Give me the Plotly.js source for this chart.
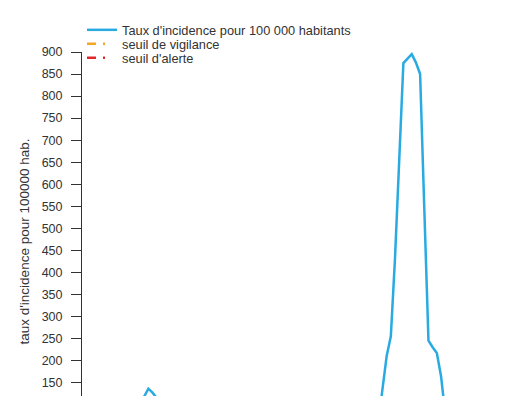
<!DOCTYPE html>
<html>
<head>
<meta charset="utf-8">
<script src="https://cdn.plot.ly/plotly-3.0.1.min.js"></script>
<style>
html, body { margin:0; padding:0; overflow:hidden; background:#fff; width:530px; height:396px; }
#chart { width:530px; height:460px; }
</style>
</head>
<body>
<div id="chart"></div>
<script>
// Weekly incidence (per 100 000 inhabitants)
const weeks = [];
for (let w = 1; w <= 100; w++) weeks.push(w);

const incidence = [
  62, 58, 55, 60, 66, 72, 80, 88, 95, 100,
  104, 108, 100, 117, 136, 127, 115, 108, 100, 92,
  85, 78, 72, 66, 60, 55, 52, 50, 48, 47,
  46, 46, 47, 48, 50, 52, 55, 58, 60, 62,
  64, 66, 68, 70, 72, 74, 75, 76, 78, 80,
  82, 84, 85, 86, 87, 88, 90, 92, 94, 95,
  96, 97, 98, 95, 90, 80, 70, 62, 55, 60,
  135, 210, 255, 433, 654, 875, 885, 895, 876, 850,
  545, 245, 230, 217, 165, 80, 65, 55, 50, 48,
  47, 46, 46, 47, 48, 49, 50, 50, 51, 52
];

const thresholdWeeks = [1, 100];
const vigilance = [70, 70];
const alerte = [100, 100];

const yTickVals = [150, 200, 250, 300, 350, 400, 450, 500, 550, 600, 650, 700, 750, 800, 850, 900];

const seriesNames = [
  "Taux d'incidence pour 100 000 habitants",
  "seuil de vigilance",
  "seuil d'alerte"
];
const yTitle = "taux d'incidence pour 100000 hab.";

const traces = [
  { x: weeks, y: incidence, type: 'scatter', mode: 'lines', name: seriesNames[0],
    legend: 'legend', line: { color: '#29abe2', width: 2.5 } },
  { x: thresholdWeeks, y: vigilance, type: 'scatter', mode: 'lines', name: seriesNames[1],
    legend: 'legend2', line: { color: '#f5a623', width: 2.5, dash: '9px,7px,2px,40px' } },
  { x: thresholdWeeks, y: alerte, type: 'scatter', mode: 'lines', name: seriesNames[2],
    legend: 'legend3', line: { color: '#e3262b', width: 2.5, dash: '9px,7px,2px,40px' } }
];

const legendBase = {
  x: 0.0, xanchor: 'left', yanchor: 'top',
  bgcolor: 'rgba(0,0,0,0)', font: { size: 12.8, color: '#333' }
};

const layout = {
  width: 530, height: 460,
  margin: { l: 82, r: 20, t: 52, b: 29 },
  paper_bgcolor: '#fff', plot_bgcolor: '#fff',
  font: { family: 'Liberation Sans, Arial, sans-serif', color: '#333', size: 12 },
  showlegend: true,
  legend: Object.assign({}, legendBase, { y: 1.0976 }),
  legend2: Object.assign({}, legendBase, { y: 1.0607 }),
  legend3: Object.assign({}, legendBase, { y: 1.0237 }),
  xaxis: {
    range: [-0.87, 101.5], visible: false, showgrid: false, zeroline: false
  },
  yaxis: {
    range: [40, 900], tickmode: 'array', tickvals: yTickVals,
    showgrid: false, zeroline: false,
    showline: true, linecolor: '#333', linewidth: 1,
    ticks: 'outside', ticklen: 10, tickcolor: '#333', tickwidth: 1,
    ticklabelstandoff: 6,
    tickfont: { size: 12.5, color: '#333' },
    title: { text: yTitle, font: { size: 13.5, color: '#333' }, standoff: 8 }
  }
};

Plotly.newPlot('chart', traces, layout, { displayModeBar: false, staticPlot: true });
</script>
</body>
</html>
